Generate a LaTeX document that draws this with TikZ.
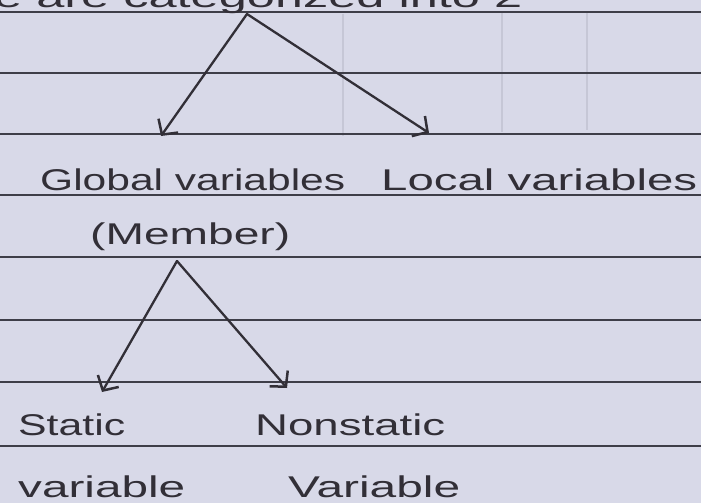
\documentclass[tikz,border=0pt]{standalone}
\usepackage{fontspec}
\setmainfont{Liberation Sans}
\usetikzlibrary{arrows.meta}
\definecolor{paper}{RGB}{216,217,232}
\definecolor{ghost}{RGB}{198,199,214}
\definecolor{rule}{RGB}{62,62,72}
\definecolor{ink}{RGB}{50,47,55}
\newcommand{\hw}[2]{\resizebox{#1}{\height}{#2}}
\tikzset{
  txt/.style={inner sep=0pt, text=ink, font=\fontsize{30}{32}\selectfont},
  ruled/.style={draw=rule, line width=1.6pt},
  ghostline/.style={draw=ghost, line width=1.6pt},
  branch/.style={draw=ink, line width=2.3pt, line cap=round,
    -{Straight Barb[length=11pt,width=24pt,line width=2.5pt]}}
}
\begin{document}
\begin{tikzpicture}[x=1pt,y=-1pt]
\fill[paper] (0,0) rectangle (701,503);
\useasboundingbox (0,0) rectangle (701,503);
\clip (0,0) rectangle (701,503);
% show-through table lines from the back page
\draw[ghostline] (343,14) -- (343,136);
\draw[ghostline] (502,12) -- (502,132);
\draw[ghostline] (587,12) -- (587,130);
% ruled lines
\foreach \yy in {12,73,134,195,257,320,382,446}
  \draw[ruled] (0,\yy) -- (701,\yy);
% partially visible top line of text
\node[txt, anchor=base west] (toptext) at (-6,8) {\hw{528pt}{e are categorized into 2}};
% first split
\coordinate (apexA) at (247,14);
\coordinate (tipGlobal) at (161,136);
\coordinate (tipLocal) at (429,133);
\draw[branch] (apexA) -- (tipGlobal);
\draw[branch] (apexA) -- (tipLocal);
\node[txt, anchor=base west] (global) at (40,190) {\hw{305pt}{Global variables}};
\node[txt, anchor=base west] (local) at (381,190) {\hw{316pt}{Local variables}};
\node[txt, anchor=base west] (member) at (90,244) {\hw{200pt}{(Member)}};
% second split
\coordinate (apexB) at (177,261);
\coordinate (tipStatic) at (102,392);
\coordinate (tipNonstatic) at (287,388);
\draw[branch] (apexB) -- (tipStatic);
\draw[branch] (apexB) -- (tipNonstatic);
\node[txt, anchor=base west] (static) at (18,435) {\hw{107pt}{Static}};
\node[txt, anchor=base west] (nonstatic) at (255,435) {\hw{190pt}{Nonstatic}};
\node[txt, anchor=base west] (varA) at (18,497) {\hw{167pt}{variable}};
\node[txt, anchor=base west] (varB) at (288,497) {\hw{172pt}{Variable}};
\end{tikzpicture}
\end{document}
